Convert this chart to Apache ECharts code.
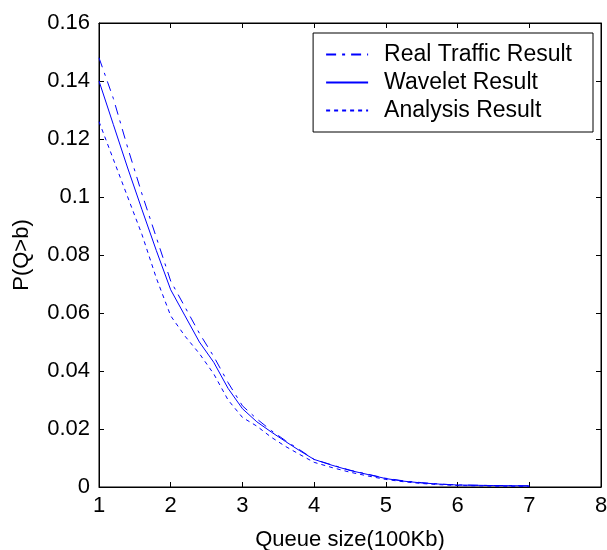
<!DOCTYPE html>
<html>
<head>
<meta charset="utf-8">
<script src="https://cdn.jsdelivr.net/npm/echarts@6/dist/echarts.min.js"></script>
<style>html,body{margin:0;padding:0;background:#fff;}#c{width:607px;height:550px;}</style>
</head>
<body>
<div id="c"></div>
<script>
var queueSize = [1.0,1.2,1.4,1.6,1.8,2.0,2.2,2.4,2.6,2.8,3.0,3.2,3.4,3.6,3.8,4.0,4.25,4.5,4.75,5.0,5.25,5.5,5.75,6.0,6.5,7.0];
var realTraffic = [0.148,0.134,0.117,0.101,0.086,0.071,0.062,0.053,0.045,0.036,0.028,0.0235,0.0195,0.016,0.0128,0.0095,0.0076,0.0058,0.0044,0.003,0.0021,0.0015,0.001,0.0007,0.0005,0.0004];
var wavelet = [0.140,0.125,0.110,0.0956,0.0815,0.068,0.059,0.050,0.043,0.034,0.027,0.0225,0.019,0.0157,0.0125,0.0095,0.0075,0.0057,0.0043,0.0029,0.002,0.0014,0.001,0.0007,0.0005,0.0004];
var analysis = [0.126,0.113,0.100,0.087,0.072,0.059,0.052,0.046,0.039,0.030,0.024,0.021,0.0172,0.014,0.0112,0.0085,0.0067,0.0051,0.0038,0.0026,0.0018,0.0012,0.0008,0.0005,0.0003,0.0002];
var seriesNames = ['Real Traffic Result','Wavelet Result','Analysis Result'];
var xTicks = {min:1, max:8, interval:1};
var yTicks = {min:0, max:0.16, interval:0.02};

function pairs(vals){ return queueSize.map(function(x,i){ return [x, vals[i]]; }); }
var font = 'Liberation Sans, Arial, sans-serif';
var chart = echarts.init(document.getElementById('c'));
var axisCommon = {
  axisLine:{show:true, onZero:false, lineStyle:{color:'#000', width:1}},
  axisTick:{show:true, inside:true, length:5, lineStyle:{color:'#000'}},
  splitLine:{show:false}
};
chart.setOption({
  animation:false,
  backgroundColor:'#fff',
  grid:{left:99, right:6, top:23, bottom:63, containLabel:false, outerBoundsMode:'none',
    show:true, borderColor:'#000', borderWidth:1},
  legend:{
    data:seriesNames, orient:'vertical', right:14, top:33,
    padding:[10,21,10,12], itemGap:5, itemWidth:42, itemHeight:14,
    borderColor:'#000', borderWidth:1, backgroundColor:'#fff', borderRadius:0,
    itemStyle:{opacity:0},
    textStyle:{fontFamily:font, fontSize:23, color:'#000', padding:[0,0,0,11]}
  },
  xAxis:[
    Object.assign({type:'value', min:xTicks.min, max:xTicks.max, interval:xTicks.interval,
      name:'Queue size(100Kb)', nameLocation:'middle', nameGap:42,
      nameTextStyle:{fontFamily:font, fontSize:22, color:'#000'},
      axisLabel:{fontFamily:font, fontSize:22, color:'#000', margin:8}}, axisCommon),
    Object.assign({type:'value', position:'top', min:xTicks.min, max:xTicks.max, interval:xTicks.interval,
      axisLabel:{show:false}}, axisCommon)
  ],
  yAxis:[
    Object.assign({type:'value', min:yTicks.min, max:yTicks.max, interval:yTicks.interval,
      name:'P(Q>b)', nameLocation:'middle', nameGap:66, nameRotate:90,
      nameTextStyle:{fontFamily:font, fontSize:22, color:'#000'},
      axisLabel:{fontFamily:font, fontSize:22, color:'#000', margin:9,
        formatter:function(v){ return String(+v.toFixed(2)); }}}, axisCommon),
    Object.assign({type:'value', position:'right', min:yTicks.min, max:yTicks.max, interval:yTicks.interval,
      axisLabel:{show:false}}, axisCommon)
  ],
  series:[
    {name:seriesNames[0], type:'line', data:pairs(realTraffic), symbol:'none',
      lineStyle:{color:'#0000ff', width:1, type:[10,6,3,6]}, itemStyle:{color:'#0000ff'}},
    {name:seriesNames[1], type:'line', data:pairs(wavelet), symbol:'none',
      lineStyle:{color:'#0000ff', width:1, type:'solid'}, itemStyle:{color:'#0000ff'}},
    {name:seriesNames[2], type:'line', data:pairs(analysis), symbol:'none',
      lineStyle:{color:'#0000ff', width:1, type:[4,4]}, itemStyle:{color:'#0000ff'}}
  ]
});
</script>
</body>
</html>
